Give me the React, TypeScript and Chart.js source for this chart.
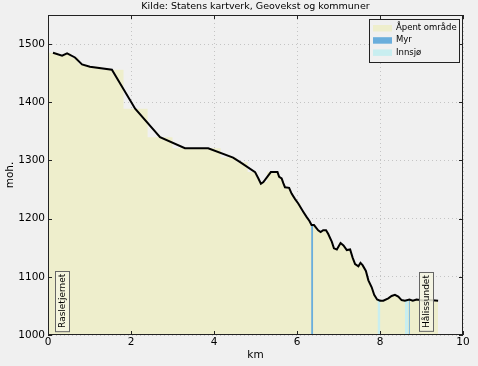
import { useEffect, useRef } from 'react';
import { Chart, registerables } from 'chart.js';
Chart.register(...registerables);

const titleText = 'Kilde: Statens kartverk, Geovekst og kommuner';
const xTitle = 'km';
const yTitle = 'moh.';

const distanceKm = [0.12,0.34,0.46,0.65,0.82,1.01,1.54,2.10,2.70,3.30,3.86,4.46,4.63,4.99,5.07,5.13,5.19,5.37,5.53,5.57,5.63,5.67,5.71,5.81,5.87,5.95,6.03,6.15,6.23,6.30,6.35,6.41,6.51,6.57,6.63,6.70,6.75,6.84,6.89,6.96,7.05,7.12,7.20,7.28,7.34,7.40,7.48,7.53,7.58,7.66,7.72,7.80,7.86,7.93,8.00,8.08,8.20,8.28,8.36,8.44,8.52,8.60,8.71,8.79,8.88,8.96,9.08,9.20,9.40];
const elevationM = [1485,1480,1484,1477,1465,1461,1456,1389,1340,1321,1321,1305,1297,1280,1269,1260,1263,1280,1280,1272,1269,1261,1254,1253,1243,1234,1226,1212,1203,1196,1189,1189,1180,1177,1180,1180,1174,1160,1149,1147,1158,1154,1146,1147,1133,1122,1118,1124,1120,1110,1094,1082,1069,1061,1059,1059,1063,1067,1069,1066,1060,1059,1061,1059,1061,1060,1059,1060,1059];
const fillStartKm = 0;

// land-cover stripes
const myrStartKm = [6.34, 8.69];
const myrEndKm = [6.39, 8.72];
const myrTopM = [1189, 1061];
const innsjoStartKm = [7.94, 8.60];
const innsjoEndKm = [8.01, 8.68];
const innsjoTopM = [1060, 1059];

const legendLabels = ['Åpent område', 'Myr', 'Innsjø'];
const legendColors = ['#eeeecc', '#6aaedc', '#c8eef0'];

const placeNames = ['Rasletjernet', 'Hålissundet'];
const placeKm = [0.34, 9.12];
const placeBaseM = [1007, 1007];

const xTicks = [0, 2, 4, 6, 8, 10];
const yTicks = [1000, 1100, 1200, 1300, 1400, 1500];
const xMin = 0, xMax = 10, yMin = 1000, yMax = 1550;

const BG = '#f0f0f0';
const FONT = "'DejaVu Sans'";

export default function App() {
  const ref = useRef<HTMLCanvasElement | null>(null);
  useEffect(() => {
    document.body.style.margin = '0';
    const canvas = ref.current!;
    const fillData = [{ x: fillStartKm, y: elevationM[0] }, ...distanceKm.map((x, i) => ({ x, y: elevationM[i] }))];
    const lineData = distanceKm.map((x, i) => ({ x, y: elevationM[i] }));
    const stripeSets: any[] = [];
    myrStartKm.forEach((s, i) => {
      stripeSets.push({
        type: 'line', data: [{ x: s, y: myrTopM[i] }, { x: myrEndKm[i], y: myrTopM[i] }],
        borderWidth: 0, pointRadius: 0, fill: 'start', backgroundColor: legendColors[1], order: 1,
      });
    });
    innsjoStartKm.forEach((s, i) => {
      stripeSets.push({
        type: 'line', data: [{ x: s, y: innsjoTopM[i] }, { x: innsjoEndKm[i], y: innsjoTopM[i] }],
        borderWidth: 0, pointRadius: 0, fill: 'start', backgroundColor: legendColors[2], order: 2,
      });
    });

    const deco = {
      id: 'deco',
      beforeDraw(chart: any) {
        const c = chart.ctx;
        c.save();
        c.fillStyle = BG;
        c.fillRect(0, 0, chart.width, chart.height);
        c.restore();
      },
      afterDatasetsDraw(chart: any) {
        const c = chart.ctx;
        const a = chart.chartArea;
        const xs = chart.scales.x, ys = chart.scales.y;
        c.save();
        // place annotations
        c.font = `9px ${FONT}`;
        placeNames.forEach((name, i) => {
          const px = xs.getPixelForValue(placeKm[i]);
          const py = ys.getPixelForValue(placeBaseM[i]);
          const w = c.measureText(name).width;
          const pad = 3;
          const bw = 9 + 2 * 2.5, bh = w + 2 * pad;
          c.fillStyle = 'rgba(245,245,225,0.85)';
          c.fillRect(Math.round(px - bw / 2) + 0.5, Math.round(py - bh) + 0.5, bw, bh);
          c.strokeStyle = '#666';
          c.lineWidth = 1;
          c.strokeRect(Math.round(px - bw / 2) + 0.5, Math.round(py - bh) + 0.5, bw, bh);
          c.save();
          c.translate(px + 0.5, py - pad);
          c.rotate(-Math.PI / 2);
          c.fillStyle = '#000';
          c.textAlign = 'left';
          c.textBaseline = 'middle';
          c.fillText(name, 0, 0);
          c.restore();
        });
        // spines
        c.strokeStyle = '#222';
        c.lineWidth = 1;
        c.strokeRect(Math.round(a.left) + 0.5, Math.round(a.top) + 0.5, Math.round(a.right - a.left) - 1, Math.round(a.bottom - a.top) - 1);
        // inward ticks
        c.beginPath();
        yTicks.forEach(v => {
          const y = Math.round(ys.getPixelForValue(v)) + 0.5;
          c.moveTo(a.left, y); c.lineTo(a.left + 4, y);
          c.moveTo(a.right, y); c.lineTo(a.right - 4, y);
        });
        xTicks.forEach(v => {
          const x = Math.round(xs.getPixelForValue(v)) + 0.5;
          c.moveTo(x, a.bottom); c.lineTo(x, a.bottom - 4);
          c.moveTo(x, a.top); c.lineTo(x, a.top + 4);
        });
        c.stroke();
        // legend
        const lx = 369, ly = 19, lw = 90, lh = 43;
        c.fillStyle = BG;
        c.fillRect(lx + 0.5, ly + 0.5, lw, lh);
        c.strokeStyle = '#222';
        c.strokeRect(lx + 0.5, ly + 0.5, lw, lh);
        c.font = `8.5px ${FONT}`;
        c.textBaseline = 'middle';
        c.textAlign = 'left';
        legendLabels.forEach((lab, i) => {
          const cy = ly + 9 + i * 12.2;
          c.fillStyle = legendColors[i];
          c.fillRect(373, cy - 3, 19, 6.5);
          c.fillStyle = '#000';
          c.fillText(lab, 396, cy);
        });
        c.restore();
      },
      afterDraw(chart: any) {
        const c = chart.ctx;
        const a = chart.chartArea;
        c.save();
        c.fillStyle = '#000';
        c.textAlign = 'center';
        c.textBaseline = 'middle';
        c.font = `9.5px ${FONT}`;
        c.fillText(titleText, (a.left + a.right) / 2, 7);
        c.font = `10.5px ${FONT}`;
        c.fillText(xTitle, (a.left + a.right) / 2, 355);
        c.translate(10, (a.top + a.bottom) / 2);
        c.rotate(-Math.PI / 2);
        c.fillText(yTitle, 0, 0);
        c.restore();
      },
    };

    const chart = new Chart(canvas, {
      type: 'line',
      data: {
        datasets: [
          { data: lineData, borderColor: '#000', borderWidth: 2, pointRadius: 0, fill: false, order: 0, tension: 0 } as any,
          ...stripeSets,
          { data: fillData, borderWidth: 0, pointRadius: 0, fill: 'start', backgroundColor: legendColors[0], stepped: 'middle', order: 3 } as any,
        ],
      },
      options: {
        animation: false,
        responsive: true,
        maintainAspectRatio: false,
        layout: { padding: { top: 15, right: 15, left: 0, bottom: 0 } },
        plugins: { legend: { display: false }, tooltip: { enabled: false }, title: { display: false } },
        scales: {
          x: {
            type: 'linear', min: xMin, max: xMax,
            afterBuildTicks: (s: any) => { s.ticks = xTicks.map(v => ({ value: v })); },
            afterFit: (s: any) => { s.height = 31; },
            ticks: { color: '#000', font: { family: FONT, size: 10.5 }, padding: 1, maxRotation: 0, autoSkip: false, callback: (v: any) => String(v) },
            grid: { color: '#c4c4c4', lineWidth: 1, drawTicks: false },
            border: { display: false, dash: [1, 3] },
          },
          y: {
            type: 'linear', min: yMin, max: yMax,
            afterBuildTicks: (s: any) => { s.ticks = yTicks.map(v => ({ value: v })); },
            afterFit: (s: any) => { s.width = 48; },
            ticks: { color: '#000', font: { family: FONT, size: 10.5 }, padding: 3, autoSkip: false, callback: (v: any) => String(v) },
            grid: { color: '#c4c4c4', lineWidth: 1, drawTicks: false },
            border: { display: false, dash: [1, 3] },
          },
        },
      },
      plugins: [deco],
    });
    return () => chart.destroy();
  }, []);
  return (
    <div style={{ position: 'fixed', left: 0, top: 0, width: 478, height: 366 }}>
      <canvas ref={ref} />
    </div>
  );
}
